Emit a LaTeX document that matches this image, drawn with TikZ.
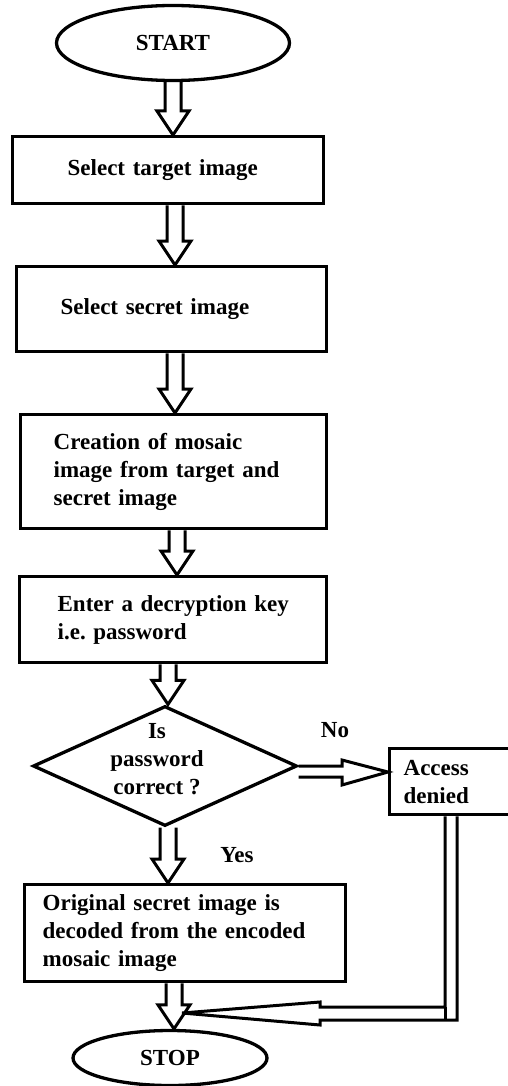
\documentclass[tikz,border=0pt]{standalone}
\usepackage{fontspec}
\setmainfont{Liberation Serif}
\usetikzlibrary{shapes.geometric,calc}
\frenchspacing
\tikzset{
  every node/.style={font=\bfseries\fontsize{23}{28}\selectfont},
  box/.style={draw, line width=3.3pt, align=left, anchor=north west, inner ysep=0pt},
  term/.style={draw, ellipse, line width=3.3pt, inner sep=0pt},
  decision/.style={draw, diamond, line width=3.3pt, inner sep=0pt},
  harrow/.style={draw, line width=3pt, line join=miter},
  lbl/.style={inner sep=0pt}
}
\newcommand\varrow[3]{%
  \draw[harrow] let \p1=(#2.south), \p2=(#3.north) in
    (#1pt-8pt,\y1) -- (#1pt-8pt,\y2+24pt) -- (#1pt-16pt,\y2+24pt) -- (#1pt,\y2)
    -- (#1pt+16pt,\y2+24pt) -- (#1pt+8pt,\y2+24pt) -- (#1pt+8pt,\y1);}
\begin{document}
\begin{tikzpicture}[x=1pt,y=-1pt]
\useasboundingbox (0,0) rectangle (508,1086);
\clip (0,0) rectangle (508,1086);
\fill[white] (0,0) rectangle (508,1086);

\node[term, minimum width=233, minimum height=75] (start) at (173,43) {START};

\node[box, minimum width=311, minimum height=67, inner xsep=55pt, text width=201pt]
  (b1) at (11,135) {\mbox{Select target image}};
\node[box, minimum width=310, minimum height=85, inner xsep=44pt, text width=222pt]
  (b2) at (15,265) {\mbox{Select secret image}};
\node[box, minimum width=306, minimum height=114, inner xsep=33pt, text width=240pt]
  (b3) at (19,413) {\mbox{Creation of mosaic}\\\mbox{image from target and}\\\mbox{secret image}};
\node[box, minimum width=307, minimum height=86, inner xsep=38pt, text width=231pt]
  (b4) at (18,575) {\mbox{Enter a decryption key}\\\mbox{i.e. password}};

\node[decision, minimum width=264, minimum height=120] (dia) at (165,766) {};
\node[lbl, align=center] (q) at (157,759) {Is\\password\\correct ?};

\node[box, minimum width=140, minimum height=66, inner xsep=14pt, text width=112pt]
  (acc) at (388,747) {Access\\denied};

\node[box, minimum width=321, minimum height=97, inner xsep=18pt, text width=285pt]
  (b5) at (23,883) {\mbox{Original secret image is}\\\mbox{decoded from the encoded}\\\mbox{mosaic image}};

\node[term, minimum width=194, minimum height=55] (stop) at (170,1058) {STOP};

\node[lbl] (no) at (335,730) {No};
\node[lbl] (yes) at (237,855) {Yes};

\coordinate (join) at (182,1013);

\varrow{173}{start}{b1}
\varrow{175}{b1}{b2}
\varrow{175}{b2}{b3}
\varrow{177}{b3}{b4}
\varrow{168}{b4}{dia}
\varrow{168}{dia}{b5}
\varrow{174}{b5}{stop}

\draw[harrow] let \p1=(dia.east), \p2=(acc.west) in
  (\x1,-766pt) -- (342pt,-766pt) -- (342pt,-760pt) -- (\x2,-772pt)
  -- (342pt,-785pt) -- (342pt,-777pt) -- (\x1,-777pt);

\draw[harrow] let \p1=(acc.south), \p2=(join) in
  (445pt,\y1) -- (445pt,-1007pt) -- (320pt,-1007pt) -- (320pt,-1002pt) -- (\x2,\y2)
  -- (320pt,-1025pt) -- (320pt,-1020pt) -- (457pt,-1020pt) -- (457pt,\y1);
\draw[harrow] (445,1007) -- (445,1020);
\end{tikzpicture}
\end{document}
